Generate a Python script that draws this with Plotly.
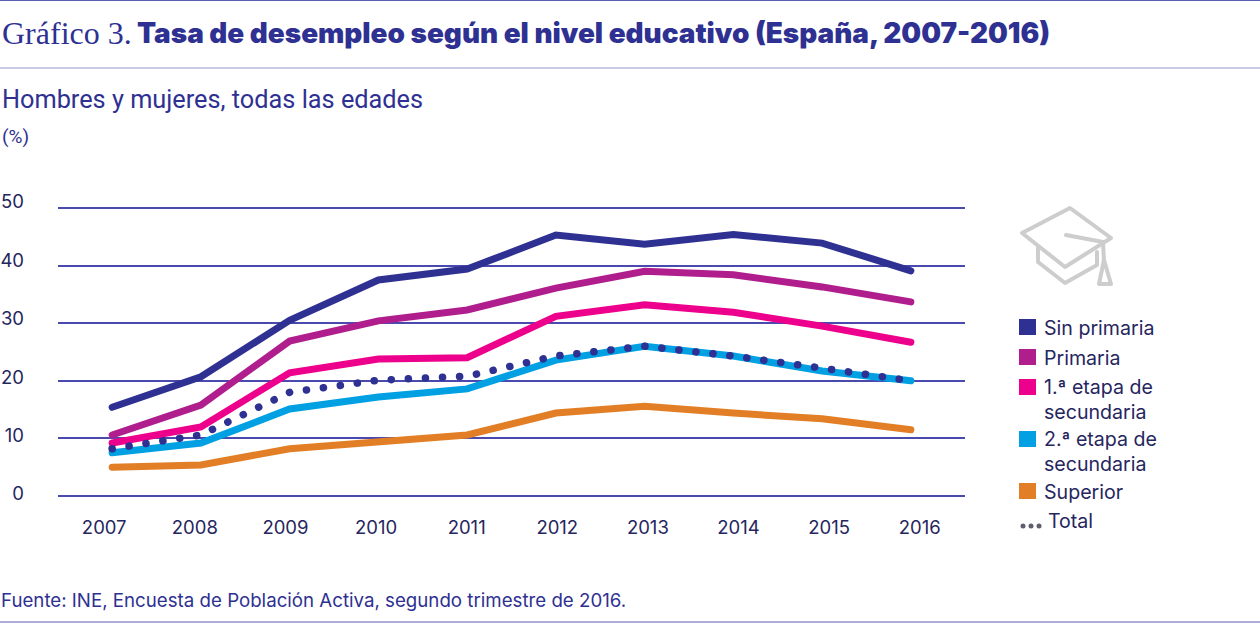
import plotly.graph_objects as go

# ── Datos ─────────────────────────────────────────────────────────────────────
anios = [2007, 2008, 2009, 2010, 2011, 2012, 2013, 2014, 2015, 2016]
sin_primaria = [15.4, 20.7, 30.5, 37.5, 39.4, 45.3, 43.7, 45.4, 43.9, 39.1]
primaria = [10.6, 15.8, 26.9, 30.4, 32.3, 36.1, 39.0, 38.4, 36.3, 33.7]
secundaria_1 = [9.2, 12.0, 21.4, 23.8, 24.0, 31.2, 33.2, 31.9, 29.5, 26.7]
secundaria_2 = [7.5, 9.2, 15.1, 17.2, 18.6, 23.6, 26.0, 24.3, 21.7, 20.0]
superior = [5.0, 5.4, 8.2, 9.4, 10.6, 14.4, 15.6, 14.4, 13.4, 11.5]
total = [8.2, 10.6, 18.0, 20.1, 20.8, 24.3, 26.0, 24.3, 22.2, 20.0]
ticks_y = [0, 10, 20, 30, 40, 50]

AZUL = '#2E3192'
OSCURO = '#26265E'
MORADO = '#B01E8E'
ROSA = '#EC008C'
CELESTE = '#00A0E3'
NARANJA = '#E27F26'
REJILLA = '#4A4AAE'
W, H = 1260, 632
SANS = 'Inter'


def px_x(x):
    return x / W


def px_y(y):
    return 1 - y / H


def texto(x, y, s, size, font=SANS, color=AZUL, weight='normal'):
    return dict(x=px_x(x - 2), y=px_y(y), xref='paper', yref='paper', text=s, showarrow=False,
                xanchor='left', yanchor='middle', align='left',
                font=dict(family=font, size=size, color=color, weight=weight))


def linea(x0, y0, x1, y1, color, width=1):
    return dict(type='line', xref='paper', yref='paper', x0=px_x(x0), y0=px_y(y0),
                x1=px_x(x1), y1=px_y(y1), line=dict(color=color, width=width))


def ruta(puntos, color='#CDCDCD', width=4, cerrar=False):
    d = 'M ' + ' L '.join(f'{px_x(a):.5f},{px_y(b):.5f}' for a, b in puntos)
    if cerrar:
        d += ' Z'
    return dict(type='path', xref='paper', yref='paper', path=d, line=dict(color=color, width=width))


# ── Series ────────────────────────────────────────────────────────────────────
fig = go.Figure()
series = [
    ('Sin primaria', sin_primaria, AZUL),
    ('Primaria', primaria, MORADO),
    ('1.ª etapa de secundaria', secundaria_1, ROSA),
    ('2.ª etapa de secundaria', secundaria_2, CELESTE),
    ('Superior', superior, NARANJA),
]
for nombre, valores, color in series:
    fig.add_trace(go.Scatter(x=anios, y=valores, name=nombre, mode='lines',
                             line=dict(color=color, width=7)))
fig.add_trace(go.Scatter(x=anios, y=total, name='Total', mode='lines',
                         line=dict(color=AZUL, width=7.5, dash='0.1px,17px')))
# ejes auxiliares: las etiquetas del original no coinciden con los puntos
fig.add_trace(go.Scatter(x=anios, y=[None] * len(anios), xaxis='x2', yaxis='y2', showlegend=False))

# ── Leyenda e icono ───────────────────────────────────────────────────────────
shapes = [
    linea(0, 0.5, W, 0.5, '#5B5FB0', 1),
    linea(0, 68, W, 68, '#9595CF', 1.2),
    linea(0, 622, W, 622, '#5B5FB0', 1),
]
anotaciones = [
    texto(2, 33, 'Gráfico 3.', 32, 'Liberation Serif'),
    texto(137, 33, 'Tasa de desempleo según el nivel educativo (España, 2007-2016)', 27.9, 'Inter', weight=900),
    texto(2, 100, 'Hombres y mujeres, todas las edades', 25.3, 'Roboto'),
    texto(2, 136, '(%)', 19, 'Roboto'),
    texto(1, 600, 'Fuente: INE, Encuesta de Población Activa, segundo trimestre de 2016.', 18.7),
]
leyenda = [
    ('Sin primaria', 327, 328, AZUL),
    ('Primaria', 357, 358, MORADO),
    ('1.ª etapa de<br>secundaria', 387, 399, ROSA),
    ('2.ª etapa de<br>secundaria', 439, 451, CELESTE),
    ('Superior', 491, 492, NARANJA),
]
for etiqueta, y_cuadro, y_texto, color in leyenda:
    shapes.append(dict(type='rect', xref='paper', yref='paper', x0=px_x(1019), x1=px_x(1036),
                       y0=px_y(y_cuadro - 8), y1=px_y(y_cuadro + 8),
                       fillcolor=color, line=dict(width=0)))
    anotaciones.append(texto(1044, y_texto, etiqueta, 19.6, color=OSCURO))
anotaciones.append(texto(1048, 521, 'Total', 19.6, color=OSCURO))
for x_punto in (1023, 1031, 1039):
    shapes.append(dict(type='circle', xref='paper', yref='paper', x0=px_x(x_punto - 2.5), x1=px_x(x_punto + 2.5),
                       y0=px_y(523.5), y1=px_y(528.5), fillcolor='#5F5F6E', line=dict(width=0)))

# birrete
shapes += [
    ruta([(1070, 208), (1111, 238), (1065, 267), (1022, 233)], cerrar=True),
    ruta([(1038, 247), (1038, 262), (1065, 283), (1097, 265), (1097, 252)]),
    ruta([(1066, 235), (1103, 242), (1104, 262)]),
    ruta([(1104, 260), (1099, 284), (1111, 284)], cerrar=True),
]

# ── Layout ────────────────────────────────────────────────────────────────────
fig.update_layout(
    width=W, height=H, margin=dict(l=0, r=0, t=0, b=0),
    paper_bgcolor='white', plot_bgcolor='white', showlegend=False,
    font=dict(family=SANS, color=AZUL),
    shapes=shapes, annotations=anotaciones,
    xaxis=dict(domain=[px_x(58), px_x(965)], range=[2006.39, 2016.61], showgrid=False, automargin=False,
               showticklabels=False, zeroline=False, ticks=''),
    yaxis=dict(domain=[px_y(502), px_y(190)], range=[-1.04, 53.125], tickvals=ticks_y, showticklabels=False,
               gridcolor=REJILLA, gridwidth=1.6, zeroline=False, showline=False, automargin=False),
    xaxis2=dict(domain=[px_x(58), px_x(965)], range=[2006.49, 2016.50], overlaying='x', anchor='y',
                side='bottom', tickvals=anios, ticktext=[str(a) for a in anios], showgrid=False,
                zeroline=False, ticks='outside', ticklen=9, tickcolor='rgba(0,0,0,0)', automargin=False,
                tickfont=dict(size=18.5, color=OSCURO)),
    yaxis2=dict(range=[-1.37, 52.05], overlaying='y', anchor='free', position=px_x(24),
                side='left', tickvals=ticks_y, showgrid=False, zeroline=False, ticks='', automargin=False,
                tickfont=dict(size=18.5, color=OSCURO)),
)

# página sin margen y remate redondeado de las líneas
post = """
document.body.style.margin = '0';
document.querySelectorAll('.scatterlayer .js-line').forEach(function (p) {
  p.style.strokeLinecap = 'round';
});
document.querySelectorAll('.shapelayer path').forEach(function (p) {
  p.style.strokeLinejoin = 'round';
  p.style.strokeLinecap = 'round';
});
"""
fig.write_html("out.html", post_script=post, config={'displayModeBar': False})
